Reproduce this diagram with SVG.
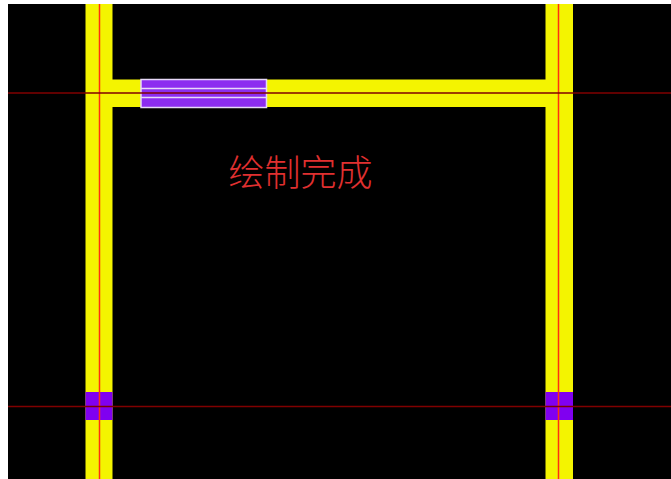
<svg xmlns="http://www.w3.org/2000/svg" width="671" height="479" viewBox="0 0 671 479">
<style>
.wall{fill:#f4f400}
.pad{fill:#8000f0}
.beam{fill:#8c2cf0}
.edge{fill:none;stroke:#e6d8f8;stroke-width:1.500}
.vaxis{stroke:#ff3010;stroke-width:1.500}
.haxis{stroke:#800000;stroke-width:1.500}
.label{font-family:"Noto Sans CJK SC","Noto Sans CJK JP",sans-serif;font-size:36px;font-weight:300;fill:#e03030}
</style>
<rect x="0" y="0" width="671" height="479" fill="#fff"/>
<rect x="8" y="4" width="663" height="475" fill="#000"/>
<g id="walls">
<rect class="wall" x="85.500" y="4" width="27" height="475"/>
<rect class="wall" x="545.500" y="4" width="27.500" height="475"/>
<rect class="wall" x="112" y="79.500" width="434" height="27.500"/>
</g>
<g id="pad-left"><rect class="pad" x="85.500" y="392" width="27" height="28"/></g>
<g id="pad-right"><rect class="pad" x="545.500" y="392" width="27.500" height="28"/></g>
<g id="beam">
<rect class="beam" x="141" y="79" width="126" height="29"/>
<rect class="edge" x="141" y="79.500" width="125.500" height="28"/>
<path class="edge" d="M141 88.500H267M141 97.500H267"/>
</g>
<g id="connectors">
<path class="vaxis" d="M99.500 4V479M558.500 4V479"/>
<path class="haxis" d="M8 93H671M8 406.500H671"/>
</g>
<g id="caption"><text class="label" x="228.500" y="186">绘制完成</text></g>
</svg>
